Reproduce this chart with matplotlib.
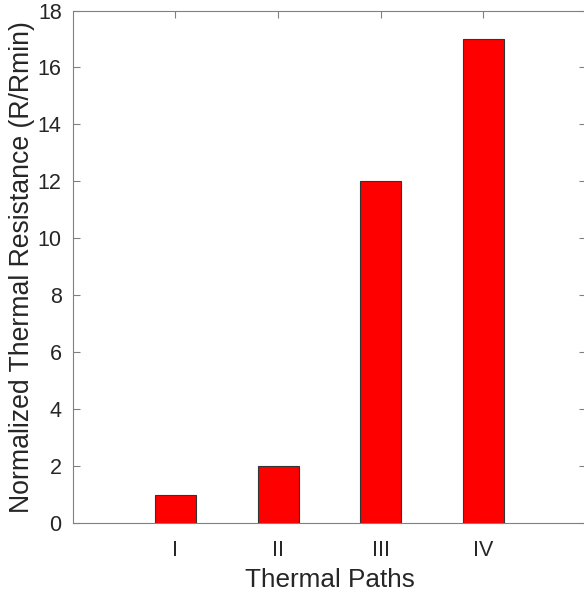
import matplotlib
matplotlib.use("Agg")
import matplotlib.pyplot as plt

categories = ["I", "II", "III", "IV"]
values = [1, 2, 12, 17]
yticks = [0, 2, 4, 6, 8, 10, 12, 14, 16, 18]

plt.rcParams['font.family'] = ['Liberation Sans', 'DejaVu Sans']
text_color = "#262626"
spine_color = "#808080"

fig = plt.figure(figsize=(5.84, 5.98), dpi=100)
ax = fig.add_axes([0.1247, 0.1254, 0.879, 0.857])

positions = list(range(1, len(categories) + 1))
ax.bar(positions, values, width=0.4, color="#ff0000", edgecolor="#333333", linewidth=0.8, zorder=2)

ax.set_xlim(0, 5)
ax.set_ylim(0, 18)
ax.set_xticks(positions)
ax.set_xticklabels(categories)
ax.set_yticks(yticks)

ax.tick_params(direction="in", length=5, width=0.8, colors=spine_color,
               labelcolor=text_color, labelsize=15.5, top=True, right=True, pad=8)
ax.tick_params(axis="x", pad=12)
for s in ax.spines.values():
    s.set_color(spine_color)
    s.set_linewidth(0.8)

ax.set_xlabel("Thermal Paths", fontsize=18.8, color=text_color, labelpad=5)
ax.set_ylabel("Normalized Thermal Resistance (R/Rmin)", fontsize=19.2, color=text_color, labelpad=2)

fig.savefig("out.png", dpi=100)
